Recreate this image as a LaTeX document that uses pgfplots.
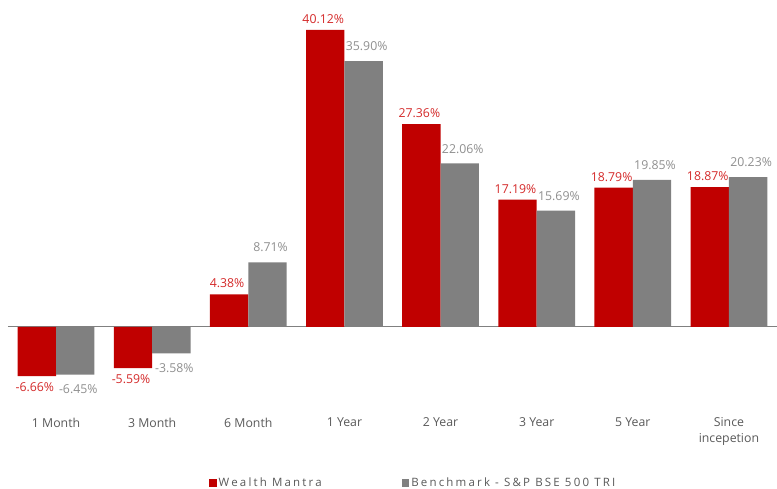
\documentclass[border=0pt]{standalone}
\usepackage{fontspec}
\setmainfont{Open Sans}
\usepackage{pgfplots}
\pgfplotsset{compat=1.18}
\definecolor{wred}{HTML}{C00000}
\definecolor{wgray}{HTML}{808080}
\definecolor{lred}{HTML}{D42A2A}
\definecolor{lgray}{HTML}{8F8F8F}
\definecolor{tgray}{HTML}{595959}
\begin{document}
\begin{tikzpicture}
\begin{axis}[
  at={(8pt,66pt)}, anchor=south west,
  scale only axis, width=769pt, height=423.2pt,
  xmin=-0.5, xmax=7.5, ymin=-13, ymax=44.17,
  ybar=0pt, bar width=38.4pt,
  axis line style={draw=none}, tick style={draw=none},
  ytick=\empty,
  xtick={0,...,7},
  xticklabels={1 Month,3 Month,6 Month,1 Year,2 Year,3 Year,5 Year,{Since\\incepetion}},
  xticklabel style={anchor=north, yshift=13pt, align=center, font=\fontsize{12.3}{16}\selectfont, text=tgray},
  clip=false,
  nodes near coords={\pgfmathprintnumber[fixed,fixed zerofill,precision=2,assume math mode=true]{\pgfplotspointmeta}\%},
  nodes near coords align={vertical},
  every node near coord/.append style={font=\fontsize{12.3}{14}\selectfont, inner xsep=2pt},
  legend columns=2,
  legend style={at={(0.527,0)}, anchor=center, yshift=-60pt, draw=none,
    font=\fontsize{11.5}{13}\addfontfeatures{LetterSpace=19}\selectfont, text=tgray,
    /tikz/column 2/.style={column sep=78pt},
    /tikz/column 1/.style={column sep=0pt},
    nodes={inner xsep=2pt}},
  legend image code/.code={\fill[#1] (0pt,-3.8pt) rectangle (7.5pt,3.8pt);},
]
\draw[wgray, line width=0.8pt] (axis cs:-0.5,0) -- (axis cs:7.5,0);
\addplot[fill=wred, draw=none, every node near coord/.append style={text=lred, xshift=-2pt, inner ysep=6pt}] coordinates {
 (0,-6.66) (1,-5.59) (2,4.38) (3,40.12) (4,27.36) (5,17.19) (6,18.79) (7,18.87)};
\addplot[fill=wgray, draw=none, every node near coord/.append style={text=lgray, xshift=3pt, inner ysep=10pt}] coordinates {
 (0,-6.45) (1,-3.58) (2,8.71) (3,35.90) (4,22.06) (5,15.69) (6,19.85) (7,20.23)};
\legend{Wealth Mantra,Benchmark - S\&P BSE 500 TRI}
\end{axis}
\pgfresetboundingbox
\path[use as bounding box] (0,0) rectangle (777pt,489pt);
\end{tikzpicture}
\end{document}
